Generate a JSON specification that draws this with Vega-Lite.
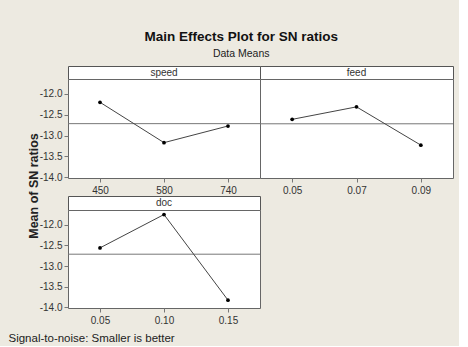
{
  "$schema": "https://vega.github.io/schema/vega-lite/v6.json",
  "background": "#EDEAE1",
  "padding": {"left": 7, "top": 29, "right": 5, "bottom": 2},
  "title": {
    "text": "Main Effects Plot for SN ratios",
    "subtitle": "Data Means",
    "anchor": "middle",
    "frame": "bounds",
    "dx": 10.5,
    "fontSize": 13.5,
    "fontWeight": "bold",
    "color": "#111111",
    "subtitleFontSize": 10.5,
    "subtitleColor": "#222222",
    "subtitlePadding": 6,
    "offset": 6
  },
  "datasets": {
    "main": [
      {"factor": "speed", "level": "450", "sn": -12.20},
      {"factor": "speed", "level": "580", "sn": -13.17},
      {"factor": "speed", "level": "740", "sn": -12.77},
      {"factor": "feed", "level": "0.05", "sn": -12.61},
      {"factor": "feed", "level": "0.07", "sn": -12.31},
      {"factor": "feed", "level": "0.09", "sn": -13.23},
      {"factor": "doc", "level": "0.05", "sn": -12.56},
      {"factor": "doc", "level": "0.10", "sn": -11.75},
      {"factor": "doc", "level": "0.15", "sn": -13.83}
    ],
    "headers": [
      {"factor": "speed"},
      {"factor": "feed"},
      {"factor": "doc"}
    ]
  },
  "columns": 2,
  "bounds": "flush",
  "spacing": {"row": 0, "column": 0},
  "concat": [
    {
      "width": 192, "height": 13,
      "data": {"name": "headers"},
      "transform": [{"filter": "datum.factor === 'speed'"}],
      "view": {"stroke": "#555555", "fill": "#ffffff", "strokeWidth": 1},
      "mark": {"type": "text", "fontSize": 10, "color": "#333333", "fontWeight": "normal"},
      "encoding": {"text": {"field": "factor"}}
    },
    {
      "width": 193, "height": 13,
      "data": {"name": "headers"},
      "transform": [{"filter": "datum.factor === 'feed'"}],
      "view": {"stroke": "#555555", "fill": "#ffffff", "strokeWidth": 1},
      "mark": {"type": "text", "fontSize": 10, "color": "#333333", "fontWeight": "normal"},
      "encoding": {"text": {"field": "factor"}}
    },
    {
      "width": 192, "height": 99,
      "data": {"name": "main"},
      "transform": [{"filter": "datum.factor === 'speed'"}],
      "layer": [
        {
          "mark": {"type": "rule", "color": "#777777", "strokeWidth": 1},
          "encoding": {
            "y": {"aggregate": "mean", "field": "sn", "type": "quantitative",
                  "scale": {"domain": [-14.02, -11.64], "nice": false, "zero": false},
                  "axis": {"title": "Mean of SN ratios", "values": [-12, -12.5, -13, -13.5, -14], "tickCount": 5,
                           "labelExpr": "replace(format(datum.value, '.1f'), '\u2212', '-')",
                           "labelOverlap": false, "labelBound": false,
                           "grid": false, "domain": false, "tickSize": 4, "tickColor": "#777777",
                           "labelFontSize": 10, "labelColor": "#333333", "labelPadding": 2,
                           "titleFontSize": 12.5, "titleFontWeight": "bold", "titleColor": "#222222",
                           "titleX": -30.5, "titleY": 106.5, "titleBaseline": "alphabetic", "titleAngle": 270}}
          }
        },
        {
          "mark": {"type": "line", "color": "#444444", "strokeWidth": 1},
          "encoding": {
            "x": {"field": "level", "type": "ordinal", "scale": {"type": "point", "padding": 0.5},
                  "axis": {"title": null, "labelAngle": 0, "domain": false, "tickSize": 4, "tickColor": "#777777", "labelFontSize": 10, "labelColor": "#333333", "labelPadding": 3}},
            "y": {"field": "sn", "type": "quantitative",
                  "scale": {"domain": [-14.02, -11.64], "nice": false, "zero": false},
                  "axis": {"title": "Mean of SN ratios", "values": [-12, -12.5, -13, -13.5, -14], "tickCount": 5,
                           "labelExpr": "replace(format(datum.value, '.1f'), '\u2212', '-')",
                           "labelOverlap": false, "labelBound": false,
                           "grid": false, "domain": false, "tickSize": 4, "tickColor": "#777777",
                           "labelFontSize": 10, "labelColor": "#333333", "labelPadding": 2,
                           "titleFontSize": 12.5, "titleFontWeight": "bold", "titleColor": "#222222",
                           "titleX": -30.5, "titleY": 106.5, "titleBaseline": "alphabetic", "titleAngle": 270}}
          }
        },
        {
          "mark": {"type": "point", "filled": true, "color": "#000000", "size": 14, "opacity": 1},
          "encoding": {
            "x": {"field": "level", "type": "ordinal"},
            "y": {"field": "sn", "type": "quantitative"}
          }
        }
      ]
    },
    {
      "width": 193, "height": 99,
      "data": {"name": "main"},
      "transform": [{"filter": "datum.factor === 'feed'"}],
      "layer": [
        {
          "mark": {"type": "rule", "color": "#777777", "strokeWidth": 1},
          "encoding": {
            "y": {"aggregate": "mean", "field": "sn", "type": "quantitative",
                  "scale": {"domain": [-14.02, -11.64], "nice": false, "zero": false},
                  "axis": null}
          }
        },
        {
          "mark": {"type": "line", "color": "#444444", "strokeWidth": 1},
          "encoding": {
            "x": {"field": "level", "type": "ordinal", "scale": {"type": "point", "padding": 0.5},
                  "axis": {"title": null, "labelAngle": 0, "domain": false, "tickSize": 4, "tickColor": "#777777", "labelFontSize": 10, "labelColor": "#333333", "labelPadding": 3}},
            "y": {"field": "sn", "type": "quantitative",
                  "scale": {"domain": [-14.02, -11.64], "nice": false, "zero": false},
                  "axis": null}
          }
        },
        {
          "mark": {"type": "point", "filled": true, "color": "#000000", "size": 14, "opacity": 1},
          "encoding": {
            "x": {"field": "level", "type": "ordinal"},
            "y": {"field": "sn", "type": "quantitative", "axis": null}
          }
        }
      ]
    },
    {
      "width": 192, "height": 18,
      "data": {"values": []},
      "view": {"stroke": null, "fill": null},
      "mark": "point"
    },
    {
      "width": 1, "height": 1,
      "data": {"values": []},
      "view": {"stroke": null, "fill": null},
      "mark": "point"
    },
    {
      "width": 192, "height": 14,
      "data": {"name": "headers"},
      "transform": [{"filter": "datum.factor === 'doc'"}],
      "view": {"stroke": "#555555", "fill": "#ffffff", "strokeWidth": 1},
      "mark": {"type": "text", "fontSize": 10, "color": "#333333", "fontWeight": "normal"},
      "encoding": {"text": {"field": "factor"}}
    },
    {
      "width": 1, "height": 1,
      "data": {"values": []},
      "view": {"stroke": null, "fill": null},
      "mark": "point"
    },
    {
      "width": 192, "height": 98,
      "data": {"name": "main"},
      "transform": [{"filter": "datum.factor === 'doc'"}],
      "layer": [
        {
          "mark": {"type": "rule", "color": "#777777", "strokeWidth": 1},
          "encoding": {
            "y": {"aggregate": "mean", "field": "sn", "type": "quantitative",
                  "scale": {"domain": [-14.02, -11.64], "nice": false, "zero": false},
                  "axis": {"title": null, "values": [-12, -12.5, -13, -13.5, -14], "tickCount": 5,
                           "labelExpr": "replace(format(datum.value, '.1f'), '\u2212', '-')",
                           "labelOverlap": false, "labelBound": false,
                           "grid": false, "domain": false, "tickSize": 4, "tickColor": "#777777",
                           "labelFontSize": 10, "labelColor": "#333333", "labelPadding": 2}}
          }
        },
        {
          "mark": {"type": "line", "color": "#444444", "strokeWidth": 1},
          "encoding": {
            "x": {"field": "level", "type": "ordinal", "scale": {"type": "point", "padding": 0.5},
                  "axis": {"title": "Signal-to-noise: Smaller is better", "labelAngle": 0, "domain": false, "tickSize": 4, "tickColor": "#777777", "labelFontSize": 10, "labelColor": "#333333", "labelPadding": 3,
                           "titleFontSize": 11.5, "titleFontWeight": "normal", "titleColor": "#222222",
                           "titleX": -60, "titleY": 33, "titleAlign": "left", "titleBaseline": "alphabetic"}},
            "y": {"field": "sn", "type": "quantitative",
                  "scale": {"domain": [-14.02, -11.64], "nice": false, "zero": false},
                  "axis": {"title": null, "values": [-12, -12.5, -13, -13.5, -14], "tickCount": 5,
                           "labelExpr": "replace(format(datum.value, '.1f'), '\u2212', '-')",
                           "labelOverlap": false, "labelBound": false,
                           "grid": false, "domain": false, "tickSize": 4, "tickColor": "#777777",
                           "labelFontSize": 10, "labelColor": "#333333", "labelPadding": 2}}
          }
        },
        {
          "mark": {"type": "point", "filled": true, "color": "#000000", "size": 14, "opacity": 1},
          "encoding": {
            "x": {"field": "level", "type": "ordinal"},
            "y": {"field": "sn", "type": "quantitative"}
          }
        }
      ]
    }
  ],
  "config": {
    "font": "Liberation Sans",
    "view": {"stroke": "#666666", "fill": "#ffffff", "strokeWidth": 1}
  }
}
